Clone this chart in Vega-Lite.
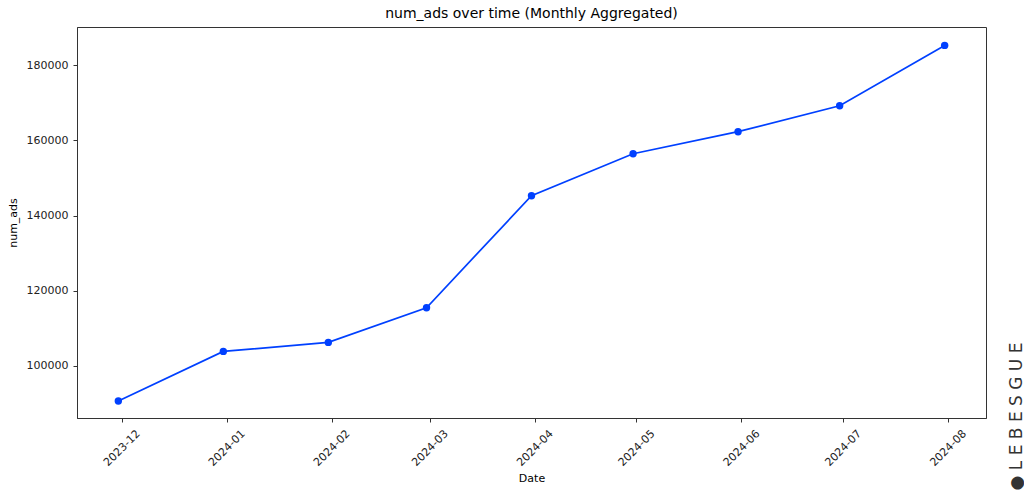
{
  "$schema": "https://vega.github.io/schema/vega-lite/v6.json",
  "width": 909,
  "height": 391,
  "autosize": {"type": "none"},
  "padding": {"left": 77, "top": 27, "right": 38, "bottom": 73},
  "background": "white",
  "title": {
    "text": "num_ads over time (Monthly Aggregated)",
    "font": "DejaVu Sans",
    "fontSize": 14,
    "fontWeight": "normal",
    "color": "#000000",
    "offset": 6
  },
  "config": {
    "view": {"stroke": "#333333", "strokeWidth": 1},
    "axis": {
      "labelFont": "DejaVu Sans",
      "titleFont": "DejaVu Sans",
      "labelFontSize": 11,
      "titleFontSize": 11,
      "titleFontWeight": "normal",
      "labelColor": "#222222",
      "titleColor": "#000000",
      "domainColor": "#333333",
      "tickColor": "#333333",
      "tickSize": 4,
      "grid": false
    }
  },
  "data": {
    "values": [
      {"date": "2023-11-30", "num_ads": 90600},
      {"date": "2023-12-31", "num_ads": 103810},
      {"date": "2024-01-31", "num_ads": 106210},
      {"date": "2024-02-29", "num_ads": 115450},
      {"date": "2024-03-31", "num_ads": 145290},
      {"date": "2024-04-30", "num_ads": 156480},
      {"date": "2024-05-31", "num_ads": 162340},
      {"date": "2024-06-30", "num_ads": 169260},
      {"date": "2024-07-31", "num_ads": 185330}
    ]
  },
  "encoding": {
    "x": {
      "field": "date",
      "type": "temporal",
      "scale": {
        "type": "utc",
        "domain": [
          {"year": 2023, "month": "nov", "date": 17, "hours": 19, "utc": true},
          {"year": 2024, "month": "aug", "date": 12, "hours": 5, "utc": true}
        ],
        "nice": false
      },
      "axis": {
        "title": "Date",
        "format": "%Y-%m",
        "values": [
          {"year": 2023, "month": "dec", "date": 1, "utc": true},
          {"year": 2024, "month": "jan", "date": 1, "utc": true},
          {"year": 2024, "month": "feb", "date": 1, "utc": true},
          {"year": 2024, "month": "mar", "date": 1, "utc": true},
          {"year": 2024, "month": "apr", "date": 1, "utc": true},
          {"year": 2024, "month": "may", "date": 1, "utc": true},
          {"year": 2024, "month": "jun", "date": 1, "utc": true},
          {"year": 2024, "month": "jul", "date": 1, "utc": true},
          {"year": 2024, "month": "aug", "date": 1, "utc": true}
        ],
        "labelAngle": -45,
        "labelAlign": "center",
        "labelBaseline": "middle",
        "labelPadding": 26,
        "labelFlush": false,
        "labelOverlap": false,
        "titlePadding": 5
      }
    },
    "y": {
      "field": "num_ads",
      "type": "quantitative",
      "scale": {"domain": [86070, 190230], "nice": false, "zero": false},
      "axis": {
        "title": "num_ads",
        "values": [100000, 120000, 140000, 160000, 180000],
        "format": "d",
        "labelPadding": 5,
        "titlePadding": 8
      }
    }
  },
  "layer": [
    {
      "mark": {"type": "line", "color": "#0040ff", "strokeWidth": 1.7}
    },
    {
      "mark": {"type": "point", "filled": true, "size": 55, "color": "#0040ff", "opacity": 1},
      "encoding": {
        "y": {
          "field": "num_ads",
          "type": "quantitative",
          "scale": {"domain": [86070, 190230], "nice": false, "zero": false},
          "axis": {
            "orient": "right",
            "labels": false,
            "ticks": false,
            "domain": false,
            "title": "● L E B E S G U E",
            "titleFont": "DejaVu Sans",
            "titleFontSize": 17,
            "titleFontWeight": "normal",
            "titleColor": "#333333",
            "titleAngle": 270,
            "titleAlign": "center",
            "titleBaseline": "middle",
            "titleX": 30,
            "titleY": 389
          }
        }
      }
    }
  ],
  "resolve": {"axis": {"y": "independent"}}
}
